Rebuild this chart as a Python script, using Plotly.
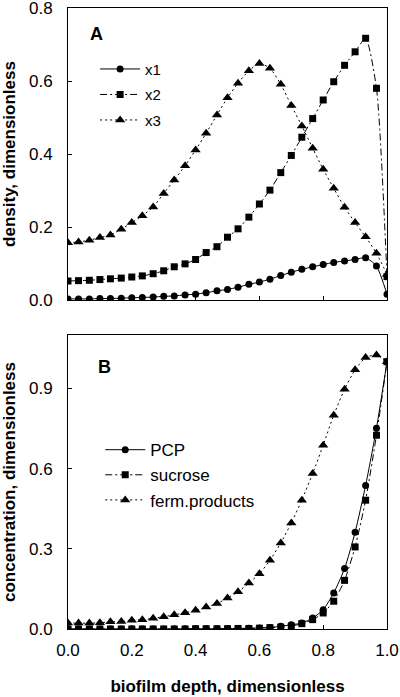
import plotly.graph_objects as go

depth = [0.000, 0.033, 0.067, 0.100, 0.133, 0.167, 0.200, 0.233, 0.267, 0.300,
         0.333, 0.367, 0.400, 0.433, 0.467, 0.500, 0.533, 0.567, 0.600, 0.633,
         0.667, 0.700, 0.733, 0.767, 0.800, 0.833, 0.867, 0.900, 0.933, 0.967, 1.000]

x1 = [0.003, 0.003, 0.003, 0.004, 0.004, 0.005, 0.006, 0.007, 0.008, 0.010,
      0.011, 0.014, 0.016, 0.020, 0.025, 0.029, 0.035, 0.043, 0.049, 0.057,
      0.067, 0.076, 0.084, 0.091, 0.097, 0.103, 0.107, 0.111, 0.116, 0.093, 0.016]
x2 = [0.052, 0.053, 0.054, 0.056, 0.058, 0.060, 0.063, 0.066, 0.072, 0.080,
      0.091, 0.099, 0.111, 0.130, 0.146, 0.172, 0.195, 0.227, 0.263, 0.301,
      0.349, 0.396, 0.446, 0.497, 0.548, 0.598, 0.643, 0.680, 0.717, 0.580, 0.064]
x3 = [0.157, 0.159, 0.164, 0.171, 0.178, 0.194, 0.212, 0.231, 0.255, 0.292,
      0.329, 0.368, 0.411, 0.457, 0.507, 0.554, 0.594, 0.628, 0.648, 0.635,
      0.591, 0.533, 0.477, 0.416, 0.358, 0.306, 0.254, 0.212, 0.173, 0.128, 0.070]

pcp = [0.000, 0.000, 0.000, 0.000, 0.000, 0.000, 0.000, 0.000, 0.000, 0.000,
       0.000, 0.001, 0.001, 0.001, 0.001, 0.002, 0.002, 0.003, 0.004, 0.006,
       0.010, 0.016, 0.022, 0.041, 0.072, 0.135, 0.226, 0.362, 0.537, 0.751, 1.000]
sucrose = [0.000, 0.000, 0.000, 0.000, 0.000, 0.000, 0.000, 0.000, 0.000, 0.000,
           0.000, 0.000, 0.001, 0.001, 0.001, 0.001, 0.002, 0.002, 0.003, 0.005,
           0.007, 0.011, 0.020, 0.035, 0.060, 0.104, 0.182, 0.307, 0.482, 0.725, 1.000]
ferm = [0.022, 0.022, 0.022, 0.023, 0.027, 0.028, 0.033, 0.035, 0.040, 0.046,
        0.053, 0.061, 0.070, 0.082, 0.095, 0.116, 0.139, 0.172, 0.207, 0.257,
        0.322, 0.397, 0.482, 0.582, 0.688, 0.800, 0.897, 0.970, 1.016, 1.025, 1.000]

names_a = ["x1", "x2", "x3"]
names_b = ["PCP", "sucrose", "ferm.products"]
yticks_a = [0.0, 0.2, 0.4, 0.6, 0.8]
yticks_b = [0.0, 0.3, 0.6, 0.9]
xticks = [0.0, 0.2, 0.4, 0.6, 0.8, 1.0]

FONT = "Liberation Sans, Arial, sans-serif"
dashes = ["solid", "7px,3px,2px,3px", "2px,3px"]
symbols = ["circle", "square", "triangle-up"]
msizes = [7, 7, 9]

fig = go.Figure()

for name, ys, d, s, ms in zip(names_a, [x1, x2, x3], dashes, symbols, msizes):
    fig.add_trace(go.Scatter(
        x=depth, y=ys, name=name, mode="lines+markers",
        line=dict(color="black", width=1, dash=d, shape="spline", smoothing=0.6),
        marker=dict(symbol=s, size=ms, color="black"),
        xaxis="x", yaxis="y", legend="legend", legendgroup=name,
    ))

for name, ys, d, s, ms in zip(names_b, [pcp, sucrose, ferm], dashes, symbols, msizes):
    fig.add_trace(go.Scatter(
        x=depth, y=ys, name=name, mode="lines+markers",
        line=dict(color="black", width=1, dash=d, shape="spline", smoothing=0.6),
        marker=dict(symbol=s, size=ms, color="black"),
        xaxis="x2", yaxis="y2", legend="legend2", legendgroup=name,
    ))

axis_common = dict(
    showline=True, linecolor="black", linewidth=1, mirror=True, automargin=False,
    ticks="inside", ticklen=4, tickcolor="black", showgrid=False, zeroline=False,
    ticklabeloverflow="allow",
    tickfont=dict(family=FONT, size=17, color="black"),
)

fig.update_layout(
    width=400, height=697,
    margin=dict(l=68, r=13, t=8, b=68),
    paper_bgcolor="white", plot_bgcolor="white",
    font=dict(family=FONT, color="black"),
    xaxis=dict(domain=[0, 1], range=[0, 1], tickvals=xticks, showticklabels=False,
               anchor="y", **axis_common),
    yaxis=dict(domain=[0.5298, 1.0], range=[0, 0.8], tickvals=yticks_a,
               tickformat=".1f", anchor="x", ticklabelstandoff=11,
               title=dict(text="<b>density, dimensionless</b>",
                          font=dict(family=FONT, size=17), standoff=8),
               **axis_common),
    xaxis2=dict(domain=[0, 1], range=[0, 1], tickvals=xticks, tickformat=".1f",
                anchor="y2", ticklabelstandoff=6,
                title=dict(text="<b>biofilm depth, dimensionless</b>",
                           font=dict(family=FONT, size=17), standoff=20),
                **axis_common),
    yaxis2=dict(domain=[0.0, 0.4734], range=[0, 1.1], tickvals=yticks_b,
                tickformat=".1f", anchor="x2", ticklabelstandoff=11,
                title=dict(text="<b>concentration, dimensionless</b>",
                           font=dict(family=FONT, size=17), standoff=8),
                **axis_common),
    legend=dict(x=0.085, y=0.928, xref="paper", yref="paper", xanchor="left", yanchor="top",
                bgcolor="rgba(0,0,0,0)", font=dict(family=FONT, size=15),
                tracegroupgap=3, itemwidth=40),
    legend2=dict(x=0.101, y=0.317, xref="paper", yref="paper", xanchor="left", yanchor="top",
                 bgcolor="rgba(0,0,0,0)", font=dict(family=FONT, size=17),
                 tracegroupgap=0, itemwidth=40),
    annotations=[
        dict(text="<b>A</b>", x=0.088, y=0.73, xref="x", yref="y", showarrow=False,
             font=dict(family=FONT, size=18)),
        dict(text="<b>B</b>", x=0.113, y=0.98, xref="x2", yref="y2", showarrow=False,
             font=dict(family=FONT, size=18)),
    ],
)

fig.write_html("out.html", config={"displayModeBar": False},
               post_script="document.body.style.margin='0';document.body.style.overflow='hidden';")
